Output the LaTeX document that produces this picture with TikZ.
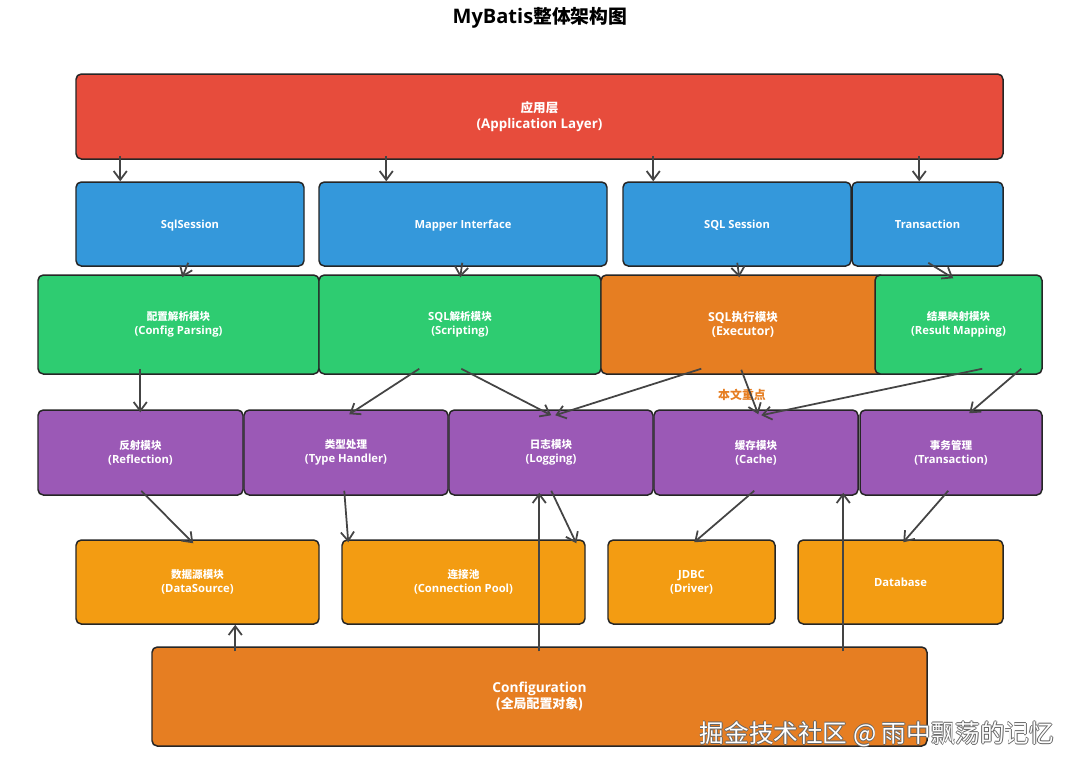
\documentclass[tikz,border=0pt]{standalone}
\usepackage{fontspec}
\setmainfont{Open Sans}
\newfontfamily\cjk[Scale=0.94]{Noto Sans CJK SC}
\newfontfamily\cjkw{Noto Sans CJK SC}
\usetikzlibrary{arrows.meta,calc}
\definecolor{cred}{HTML}{E74C3C}
\definecolor{cblue}{HTML}{3498DB}
\definecolor{cgreen}{HTML}{2ECC71}
\definecolor{corange}{HTML}{E67E22}
\definecolor{cyellow}{HTML}{F39C12}
\definecolor{cpurple}{HTML}{9B59B6}
\definecolor{cline}{HTML}{444444}
\newcommand\mybox[7]{\node[box,fill=#6,minimum width={(#4-#2)*0.02cm},minimum height={(#5-#3)*0.02cm}] (#1) at ({(#2+#4)/2},{(#3+#5)/2}) {#7};}
\newcommand\eq{\vphantom{(Qy}\rule{0pt}{7pt}}
\tikzset{
  box/.style={draw=black!85, line width=0.85pt, rounded corners=3pt, text=white, align=center, inner sep=0pt, font=\bfseries\fontsize{6.4}{7.9}\selectfont},
  fapp/.style={font=\bfseries\fontsize{7.6}{9}\selectfont},
  fblue/.style={font=\bfseries\fontsize{6.35}{8}\selectfont},
  fexe/.style={font=\bfseries\fontsize{7}{8}\selectfont},
  fconf/.style={font=\bfseries\fontsize{7.8}{9}\selectfont},
  arr/.style={draw=cline, line width=1pt, -{Straight Barb[length=5pt,width=7.5pt]}},
}
\begin{document}
\begin{tikzpicture}[x=0.02cm,y=-0.02cm]
\useasboundingbox[fill=white] (0,0) rectangle (1080,769);
\node[font=\bfseries\fontsize{11.4}{13}\selectfont] (title) at (540,18) {MyBatis{\cjk 整体架构图}};
% application layer
\mybox{app}{76}{74}{1003}{159}{cred,fapp}{{\cjk 应用层}\\(Application Layer)}
% blue row
\mybox{sqls}{76}{182}{304}{266}{cblue,fblue}{\eq SqlSession}
\mybox{mapi}{319}{182}{607}{266}{cblue,fblue}{\eq Mapper Interface}
\mybox{sqlsess}{623}{182}{851}{266}{cblue,fblue}{\eq SQL Session}
\mybox{trans}{852}{182}{1003}{266}{cblue,fblue}{\eq Transaction}
% module row
\mybox{cfgp}{38}{275}{319}{374}{cgreen}{{\cjk 配置解析模块}\\(Config Parsing)}
\mybox{scp}{319}{275}{601}{374}{cgreen}{SQL{\cjk 解析模块}\\(Scripting)}
\mybox{exe}{601}{275}{885}{374}{corange,fexe}{SQL{\cjk 执行模块}\\(Executor)}
\mybox{rmap}{875}{275}{1042}{374}{cgreen}{{\cjk 结果映射模块}\\(Result Mapping)}
% purple row
\mybox{refl}{38}{410}{243}{495}{cpurple}{{\cjk 反射模块}\\(Reflection)}
\mybox{type}{244}{410}{448}{495}{cpurple}{{\cjk 类型处理}\\(Type Handler)}
\mybox{logm}{449}{410}{653}{495}{cpurple}{{\cjk 日志模块}\\(Logging)}
\mybox{cache}{654}{410}{858}{495}{cpurple}{{\cjk 缓存模块}\\(Cache)}
\mybox{txm}{860}{410}{1042}{495}{cpurple}{{\cjk 事务管理}\\(Transaction)}
% yellow row
\mybox{ds}{76}{540}{319}{624}{cyellow}{{\cjk 数据源模块}\\(DataSource)}
\mybox{pool}{342}{540}{585}{624}{cyellow}{{\cjk 连接池}\\(Connection Pool)}
\mybox{jdbc}{608}{540}{775}{624}{cyellow}{JDBC\\(Driver)}
\mybox{db}{798}{540}{1003}{624}{cyellow}{\eq Database}
% configuration
\mybox{conf}{152}{647}{927}{746}{corange,fconf}{Configuration\\{\cjk (全局配置对象)}}
% label
\node[text=corange,font=\bfseries\fontsize{7.2}{8}\selectfont] (focus) at (742,395) {\cjk 本文重点};
% arrows
\draw[arr] ($(app.south west)+(45,-4)$) -- ($(sqls.north west)+(45,0)$);
\draw[arr] ($(app.south west)+(311,-4)$) -- ($(mapi.north west)+(68,0)$);
\draw[arr] ($(app.south west)+(578,-4)$) -- ($(sqlsess.north west)+(31,0)$);
\draw[arr] ($(app.south west)+(844,-4)$) -- ($(trans.north west)+(68,0)$);
\draw[arr] ($(sqls.south west)+(113,-4)$) -- ($(cfgp.north west)+(145,3)$);
\draw[arr] ($(mapi.south west)+(144,-4)$) -- ($(scp.north west)+(142,3)$);
\draw[arr] ($(sqlsess.south west)+(115,-4)$) -- ($(exe.north west)+(139,3)$);
\draw[arr] ($(trans.south west)+(77,-4)$) -- ($(rmap.north west)+(79,4)$);
\draw[arr] ($(cfgp.south west)+(103,-6)$) -- ($(refl.north west)+(103,3)$);
\draw[arr] ($(scp.south west)+(101,-6)$) -- ($(type.north west)+(106,5)$);
\draw[arr] ($(scp.south west)+(143,-6)$) -- ($(logm.north west)+(103,6)$);
\draw[arr] ($(exe.south west)+(101,-6)$) -- ($(logm.north west)+(107,6)$);
\draw[arr] ($(exe.south west)+(141,-5)$) -- ($(cache.north west)+(105,5)$);
\draw[arr] ($(rmap.south west)+(108,-6)$) -- ($(cache.north west)+(108,6)$);
\draw[arr] ($(rmap.south west)+(147,-6)$) -- ($(txm.north west)+(110,4)$);
\draw[arr] ($(refl.south west)+(104,-5)$) -- ($(ds.north west)+(118,4)$);
\draw[arr] ($(type.south west)+(101,-5)$) -- ($(pool.north west)+(7,3)$);
\draw[arr] ($(logm.south west)+(103,-5)$) -- ($(pool.north west)+(235,4)$);
\draw[arr] ($(cache.south west)+(101,-5)$) -- ($(jdbc.north west)+(87,3)$);
\draw[arr] ($(txm.south west)+(89,-5)$) -- ($(db.north west)+(106,3)$);
\draw[arr] ($(conf.north west)+(84,5)$) -- ($(ds.south west)+(160,0)$);
\draw[arr] ($(conf.north west)+(388,5)$) -- ($(logm.south west)+(91,-3)$);
\draw[arr] ($(conf.north west)+(692,5)$) -- ($(cache.south west)+(190,-3)$);
% watermark
\foreach \dx/\dy in {-0.8/0,0.8/0,0/-0.8,0/0.8}
  \node[text=black!60,font=\cjkw\fontsize{14}{16}\selectfont] at ($(877,734)+(\dx,\dy)$) {掘金技术社区 @ 雨中飘荡的记忆};
\node[text=white,font=\cjkw\fontsize{14}{16}\selectfont] (wm) at (877,734) {掘金技术社区 @ 雨中飘荡的记忆};
\end{tikzpicture}
\end{document}
